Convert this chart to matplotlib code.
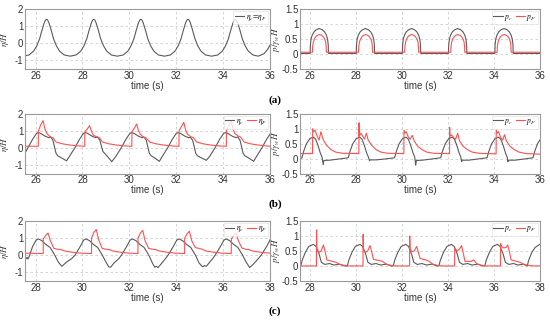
import matplotlib
matplotlib.use("Agg")
import matplotlib.pyplot as plt

plt.rcParams['font.family'] = ['Liberation Sans', 'DejaVu Sans']
plt.rcParams['mathtext.fontset'] = 'stix'

# %% data ------------------------------------------------------------------

# (a) left: eta_c = eta_F
a_eta_t = [25.55, 25.72, 25.92, 26.05, 26.17, 26.27, 26.37, 26.43, 26.47, 26.51, 26.57, 26.67, 26.77, 26.89, 27.02, 27.22, 27.475,
           27.73, 27.93, 28.06, 28.18, 28.28, 28.38, 28.44, 28.48, 28.52, 28.58, 28.68, 28.78, 28.90, 29.03, 29.23, 29.485,
           29.74, 29.94, 30.07, 30.19, 30.29, 30.39, 30.45, 30.49, 30.53, 30.59, 30.69, 30.79, 30.91, 31.04, 31.24, 31.495,
           31.75, 31.95, 32.08, 32.20, 32.30, 32.40, 32.46, 32.50, 32.54, 32.60, 32.70, 32.80, 32.92, 33.05, 33.25, 33.51,
           33.77, 33.97, 34.10, 34.22, 34.32, 34.42, 34.48, 34.52, 34.56, 34.62, 34.72, 34.82, 34.94, 35.07, 35.27, 35.50,
           35.75, 35.90, 36.0]
a_eta_v = [-0.73, -0.68, -0.45, -0.15, 0.25, 0.75, 1.2, 1.37, 1.40, 1.37, 1.2, 0.75, 0.25, -0.15, -0.45, -0.68, -0.75,
           -0.68, -0.45, -0.15, 0.25, 0.75, 1.2, 1.37, 1.40, 1.37, 1.2, 0.75, 0.25, -0.15, -0.45, -0.68, -0.75,
           -0.68, -0.45, -0.15, 0.25, 0.75, 1.2, 1.37, 1.40, 1.37, 1.2, 0.75, 0.25, -0.15, -0.45, -0.68, -0.75,
           -0.68, -0.45, -0.15, 0.25, 0.75, 1.2, 1.37, 1.40, 1.37, 1.2, 0.75, 0.25, -0.15, -0.45, -0.68, -0.75,
           -0.68, -0.45, -0.15, 0.25, 0.75, 1.2, 1.37, 1.40, 1.37, 1.2, 0.75, 0.25, -0.15, -0.45, -0.68, -0.75,
           -0.6, -0.35, -0.1]

# (a) right: p_c (grey) and p_F (red)
a_pc_t = [25.55,
          25.99, 26.00, 26.03, 26.08, 26.16, 26.26, 26.39, 26.52, 26.62, 26.70, 26.75, 26.78, 26.79,
          28.00, 28.01, 28.04, 28.09, 28.17, 28.27, 28.40, 28.53, 28.63, 28.71, 28.76, 28.79, 28.80,
          30.01, 30.02, 30.05, 30.10, 30.18, 30.28, 30.41, 30.54, 30.64, 30.72, 30.77, 30.80, 30.81,
          32.02, 32.03, 32.06, 32.11, 32.19, 32.29, 32.42, 32.55, 32.65, 32.73, 32.78, 32.81, 32.82,
          34.04, 34.05, 34.08, 34.13, 34.21, 34.31, 34.44, 34.57, 34.67, 34.75, 34.80, 34.83, 34.84,
          36.0]
a_pc_v = [0.02,
          0.02, 0.3, 0.5, 0.63, 0.74, 0.81, 0.85, 0.81, 0.74, 0.63, 0.5, 0.3, 0.02,
          0.02, 0.3, 0.5, 0.63, 0.74, 0.81, 0.85, 0.81, 0.74, 0.63, 0.5, 0.3, 0.02,
          0.02, 0.3, 0.5, 0.63, 0.74, 0.81, 0.85, 0.81, 0.74, 0.63, 0.5, 0.3, 0.02,
          0.02, 0.3, 0.5, 0.63, 0.74, 0.81, 0.85, 0.81, 0.74, 0.63, 0.5, 0.3, 0.02,
          0.02, 0.3, 0.5, 0.63, 0.74, 0.81, 0.85, 0.81, 0.74, 0.63, 0.5, 0.3, 0.02,
          0.02]
a_pf_t = [25.55,
          26.09, 26.10, 26.13, 26.18, 26.25, 26.32, 26.40, 26.48, 26.55, 26.62, 26.67, 26.69, 26.70,
          28.10, 28.11, 28.14, 28.19, 28.26, 28.33, 28.41, 28.49, 28.56, 28.63, 28.68, 28.70, 28.71,
          30.11, 30.12, 30.15, 30.20, 30.27, 30.34, 30.42, 30.50, 30.57, 30.64, 30.69, 30.71, 30.72,
          32.12, 32.13, 32.16, 32.21, 32.28, 32.35, 32.43, 32.51, 32.58, 32.65, 32.70, 32.72, 32.73,
          34.14, 34.15, 34.18, 34.23, 34.30, 34.37, 34.45, 34.53, 34.60, 34.67, 34.72, 34.74, 34.75,
          36.0]
a_pf_v = [0.06,
          0.06, 0.25, 0.4, 0.51, 0.59, 0.63, 0.65, 0.63, 0.59, 0.51, 0.4, 0.25, 0.06,
          0.06, 0.25, 0.4, 0.51, 0.59, 0.63, 0.65, 0.63, 0.59, 0.51, 0.4, 0.25, 0.06,
          0.06, 0.25, 0.4, 0.51, 0.59, 0.63, 0.65, 0.63, 0.59, 0.51, 0.4, 0.25, 0.06,
          0.06, 0.25, 0.4, 0.51, 0.59, 0.63, 0.65, 0.63, 0.59, 0.51, 0.4, 0.25, 0.06,
          0.06, 0.25, 0.4, 0.51, 0.59, 0.63, 0.65, 0.63, 0.59, 0.51, 0.4, 0.25, 0.06,
          0.06]

# (b) left: eta_c (grey), eta_F (red)
b_etac_t = [25.55, 25.67, 25.87, 26.04, 26.12, 26.22, 26.42, 26.57, 26.64, 26.74, 26.87, 26.94, 27.07, 27.32,
            27.44, 27.67, 27.87, 28.04, 28.12, 28.22, 28.42, 28.57, 28.64, 28.74, 28.87, 28.97, 29.07, 29.25,
            29.42, 29.65, 29.85, 30.02, 30.10, 30.20, 30.40, 30.55, 30.62, 30.72, 30.85, 30.92, 31.05, 31.28,
            31.40, 31.63, 31.83, 32.00, 32.08, 32.18, 32.38, 32.53, 32.60, 32.70, 32.83, 32.90, 33.03, 33.28,
            33.42, 33.65, 33.85, 34.02, 34.10, 34.20, 34.40, 34.55, 34.62, 34.72, 34.85, 34.92, 35.05, 35.30,
            35.42, 35.65, 35.85, 36.0]
b_etac_v = [-0.3, 0.0, 0.5, 0.85, 0.9, 0.85, 0.68, 0.6, 0.65, 0.45, -0.3, -0.45, -0.55, -0.75,
            -0.5, 0.0, 0.5, 0.85, 0.9, 0.85, 0.68, 0.6, 0.65, 0.45, -0.2, -0.35, -0.5, -0.8,
            -0.5, 0.0, 0.5, 0.85, 0.9, 0.85, 0.68, 0.6, 0.65, 0.45, -0.3, -0.45, -0.55, -0.78,
            -0.5, 0.0, 0.5, 0.85, 0.9, 0.85, 0.68, 0.6, 0.62, 0.45, -0.3, -0.45, -0.55, -0.72,
            -0.5, 0.0, 0.5, 0.85, 0.9, 0.85, 0.68, 0.6, 0.65, 0.45, -0.3, -0.45, -0.55, -0.78,
            -0.5, 0.0, 0.5, 0.8]
b_etaf_t = [25.55, 26.115, 26.12, 26.22, 26.32, 26.40, 26.48, 26.62, 26.74, 26.87, 27.12, 27.42, 27.82, 28.095,
            28.10, 28.20, 28.30, 28.38, 28.46, 28.60, 28.72, 28.85, 29.10, 29.40, 29.80, 30.105,
            30.11, 30.21, 30.31, 30.39, 30.47, 30.61, 30.73, 30.86, 31.11, 31.41, 31.81, 32.115,
            32.12, 32.22, 32.32, 32.40, 32.48, 32.62, 32.74, 32.87, 33.12, 33.42, 33.82, 34.135,
            34.14, 34.24, 34.34, 34.42, 34.50, 34.64, 34.76, 34.89, 35.14, 35.44, 35.84, 36.0]
b_etaf_v = [0.1, 0.1, 1.0, 1.35, 1.6, 1.1, 0.85, 0.65, 0.6, 0.35, 0.25, 0.18, 0.12, 0.1,
            0.95, 1.1, 1.3, 1.0, 0.75, 0.65, 0.6, 0.35, 0.25, 0.18, 0.12, 0.1,
            0.95, 1.15, 1.4, 1.0, 0.8, 0.62, 0.58, 0.35, 0.25, 0.18, 0.12, 0.1,
            1.0, 1.25, 1.5, 1.05, 0.8, 0.65, 0.6, 0.35, 0.25, 0.18, 0.12, 0.1,
            1.0, 1.35, 1.6, 1.1, 0.85, 0.7, 0.62, 0.35, 0.25, 0.18, 0.12, 0.1]

# (b) right: p_c (grey), p_F (red)
b_pc_t = [25.55, 25.63, 25.71, 25.83, 25.98, 26.13, 26.23, 26.33, 26.43, 26.51, 26.56, 26.59, 26.85, 27.35, 27.65,
          27.73, 27.85, 28.00, 28.15, 28.25, 28.35, 28.45, 28.53, 28.58, 28.61, 28.87, 29.37, 29.67,
          29.75, 29.87, 30.02, 30.17, 30.27, 30.37, 30.47, 30.55, 30.59, 30.62, 30.89, 31.39, 31.68,
          31.76, 31.88, 32.03, 32.18, 32.28, 32.38, 32.48, 32.56, 32.59, 32.62, 32.90, 33.40, 33.70,
          33.78, 33.90, 34.05, 34.20, 34.30, 34.40, 34.50, 34.58, 34.61, 34.64, 34.92, 35.42, 35.70,
          35.78, 35.90, 36.0]
b_pc_v = [0.02, 0.02, 0.25, 0.5, 0.67, 0.72, 0.65, 0.45, 0.2, 0.05, -0.2, -0.06, -0.05, 0.0, 0.03,
          0.25, 0.5, 0.67, 0.72, 0.65, 0.45, 0.2, 0.05, -0.07, -0.04, -0.04, 0.0, 0.03,
          0.25, 0.5, 0.67, 0.72, 0.65, 0.45, 0.2, 0.05, -0.22, -0.06, -0.05, 0.0, 0.03,
          0.25, 0.5, 0.67, 0.72, 0.65, 0.45, 0.2, 0.05, -0.1, -0.05, -0.05, 0.0, 0.03,
          0.25, 0.5, 0.67, 0.72, 0.65, 0.45, 0.2, 0.05, -0.1, -0.05, -0.05, 0.0, 0.03,
          0.25, 0.5, 0.62]
b_pf_t = [25.55, 26.095, 26.10, 26.15, 26.20, 26.30, 26.38, 26.46, 26.55, 26.70, 26.90, 27.10, 27.40,
          28.115, 28.12, 28.13, 28.20, 28.28, 28.36, 28.44, 28.52, 28.67, 28.87, 29.07, 29.37,
          30.075, 30.08, 30.13, 30.18, 30.28, 30.36, 30.44, 30.52, 30.67, 30.87, 31.07, 31.37,
          32.065, 32.07, 32.08, 32.15, 32.25, 32.33, 32.42, 32.50, 32.65, 32.85, 33.05, 33.35,
          34.095, 34.10, 34.15, 34.20, 34.30, 34.38, 34.46, 34.54, 34.69, 34.89, 35.09, 35.39, 36.0]
b_pf_v = [0.17, 0.17, 1.0, 0.9, 0.95, 0.75, 0.62, 0.9, 0.65, 0.45, 0.3, 0.22, 0.18,
          0.17, 1.2, 0.75, 0.85, 0.75, 0.65, 0.85, 0.62, 0.45, 0.3, 0.22, 0.18,
          0.17, 0.95, 0.85, 0.9, 0.7, 0.65, 0.78, 0.6, 0.42, 0.3, 0.22, 0.18,
          0.17, 1.05, 0.75, 0.8, 0.7, 0.65, 0.85, 0.6, 0.42, 0.3, 0.22, 0.18,
          0.16, 0.95, 0.85, 0.9, 0.7, 0.62, 0.8, 0.6, 0.42, 0.3, 0.22, 0.17, 0.15]

# (c) left: eta_c (grey), eta_F (red)
c_etac_t = [27.55, 27.60, 27.64, 27.68, 27.72, 27.87, 28.02, 28.12,
            28.27, 28.42, 28.62, 28.82, 28.97, 29.12, 29.32, 29.54, 29.68, 29.90, 30.05, 30.15,
            30.30, 30.45, 30.65, 30.85, 31.00, 31.12, 31.20, 31.35, 31.55, 31.66, 31.88, 32.03, 32.13,
            32.28, 32.43, 32.63, 32.83, 32.98, 33.08, 33.15, 33.22, 33.30, 33.45, 33.65, 33.87, 34.02, 34.12,
            34.27, 34.42, 34.62, 34.82, 34.97, 35.07, 35.13, 35.20, 35.28, 35.40, 35.55, 35.66, 35.88, 36.03, 36.13,
            36.28, 36.43, 36.63, 36.83, 36.98, 37.13, 37.30, 37.50, 37.62, 37.85, 38.0]
c_etac_v = [-0.15, -0.2, -0.12, -0.22, -0.1, 0.5, 0.88, 0.95,
            0.85, 0.65, 0.45, 0.0, -0.4, -0.65, -0.4, -0.2, 0.0, 0.5, 0.88, 0.95,
            0.85, 0.65, 0.45, 0.0, -0.4, -0.68, -0.7, -0.45, -0.2, 0.0, 0.5, 0.88, 0.95,
            0.85, 0.65, 0.45, 0.0, -0.45, -0.7, -0.65, -0.72, -0.6, -0.35, 0.0, 0.5, 0.88, 0.95,
            0.85, 0.65, 0.45, 0.0, -0.45, -0.6, -0.68, -0.6, -0.65, -0.45, -0.2, 0.0, 0.5, 0.88, 0.95,
            0.85, 0.65, 0.45, 0.0, -0.4, -0.72, -0.5, -0.2, 0.0, 0.5, 0.9]
c_etaf_t = [27.55, 28.325,
            28.33, 28.43, 28.53, 28.63, 28.78, 28.93, 29.08, 29.23, 29.53, 29.93, 30.385,
            30.39, 30.49, 30.59, 30.69, 30.84, 30.99, 31.14, 31.29, 31.59, 31.99, 32.365,
            32.37, 32.47, 32.57, 32.67, 32.82, 32.97, 33.12, 33.27, 33.57, 33.97, 34.355,
            34.36, 34.46, 34.56, 34.66, 34.81, 34.96, 35.11, 35.26, 35.56, 35.96, 36.345,
            36.35, 36.45, 36.55, 36.65, 36.80, 36.95, 37.10, 37.25, 37.55, 38.0]
c_etaf_v = [0.12, 0.1,
            0.95, 1.15, 1.3, 0.85, 0.4, 0.35, 0.33, 0.25, 0.18, 0.12, 0.1,
            1.0, 1.35, 1.5, 0.9, 0.4, 0.35, 0.33, 0.25, 0.18, 0.12, 0.1,
            1.0, 1.3, 1.45, 0.85, 0.4, 0.35, 0.33, 0.25, 0.18, 0.12, 0.1,
            1.0, 1.25, 1.4, 0.85, 0.45, 0.4, 0.35, 0.25, 0.18, 0.12, 0.1,
            0.95, 1.15, 1.3, 0.85, 0.42, 0.35, 0.33, 0.25, 0.18, 0.12]

# (c) right: p_c (grey), p_F (red)
c_pc_t = [27.55, 27.58, 27.65, 27.78, 27.93, 28.13, 28.25, 28.38, 28.48, 28.63, 28.83, 29.03, 29.28, 29.48, 29.61,
          29.68, 29.81, 29.96, 30.16, 30.28, 30.41, 30.51, 30.66, 30.86, 31.06, 31.31, 31.51, 31.61,
          31.68, 31.81, 31.96, 32.16, 32.28, 32.41, 32.51, 32.66, 32.86, 33.06, 33.31, 33.51, 33.60,
          33.67, 33.80, 33.95, 34.15, 34.27, 34.40, 34.50, 34.65, 34.85, 35.05, 35.30, 35.50, 35.60,
          35.67, 35.80, 35.95, 36.15, 36.27, 36.40, 36.50, 36.65, 36.85, 37.05, 37.30, 37.45,
          37.52, 37.65, 37.80, 38.0]
c_pc_v = [0.0, 0.0, 0.2, 0.45, 0.65, 0.72, 0.65, 0.4, 0.12, 0.05, 0.08, 0.03, 0.06, 0.0, 0.0,
          0.2, 0.45, 0.65, 0.72, 0.65, 0.4, 0.12, 0.05, 0.08, 0.03, 0.06, 0.0, 0.0,
          0.2, 0.45, 0.65, 0.72, 0.65, 0.4, 0.12, 0.05, 0.08, 0.03, 0.06, 0.0, 0.0,
          0.2, 0.45, 0.65, 0.72, 0.65, 0.4, 0.12, 0.05, 0.08, 0.03, 0.06, 0.0, 0.0,
          0.2, 0.45, 0.65, 0.72, 0.65, 0.4, 0.12, 0.05, 0.08, 0.03, 0.06, 0.0,
          0.2, 0.45, 0.62, 0.72]
c_pf_t = [27.55, 28.265, 28.27, 28.285, 28.37, 28.47, 28.57, 28.65, 28.72, 28.97, 29.12, 29.27, 29.47, 29.67,
          30.295, 30.30, 30.315, 30.40, 30.50, 30.60, 30.68, 30.75, 31.00, 31.15, 31.30, 31.50, 31.70,
          32.325, 32.33, 32.345, 32.43, 32.53, 32.63, 32.71, 32.78, 33.03, 33.18, 33.33, 33.53, 33.73,
          34.285, 34.29, 34.39, 34.49, 34.59, 34.67, 34.74, 34.99, 35.12, 35.27, 35.47, 35.67,
          36.285, 36.29, 36.33, 36.43, 36.53, 36.60, 36.68, 36.75, 37.00, 37.15, 37.30, 37.50, 37.70, 38.0]
c_pf_v = [0.0, 0.0, 1.2, 0.55, 0.45, 0.5, 0.7, 0.45, 0.2, 0.15, 0.12, 0.05, 0.02, 0.0,
          0.0, 1.05, 0.55, 0.45, 0.5, 0.68, 0.45, 0.22, 0.18, 0.15, 0.06, 0.02, 0.0,
          0.0, 1.0, 0.55, 0.48, 0.5, 0.65, 0.45, 0.25, 0.2, 0.15, 0.06, 0.02, 0.0,
          0.0, 0.6, 0.5, 0.55, 0.68, 0.4, 0.15, 0.15, 0.2, 0.06, 0.02, 0.0,
          0.0, 0.75, 0.65, 0.6, 0.62, 0.7, 0.45, 0.2, 0.15, 0.12, 0.05, 0.02, 0.0, 0.0]

eta_ticks = [-1, 0, 1, 2]
p_ticks = [-0.5, 0, 0.5, 1, 1.5]
xticks_ab = [26, 28, 30, 32, 34, 36]
xticks_c = [28, 30, 32, 34, 36, 38]
panel_names = ['(a)', '(b)', '(c)']

GREY = '#5a5a5a'
RED = '#ff5050'

# %% figure ---------------------------------------------------------------
fig = plt.figure(figsize=(5.5, 3.24), dpi=100)

rows_bottom = [0.787, 0.464, 0.133]
row_h = 0.185
xl_left, xw_left = 0.0455, 0.4455
xl_right, xw_right = 0.5455, 0.436


def style(ax, xlim, xticks, ylim, yticks, ylabel, label_x):
    ax.set_xlim(*xlim)
    ax.set_ylim(*ylim)
    ax.set_xticks(xticks)
    ax.set_yticks(yticks)
    ax.set_yticklabels([f'{v:g}' for v in yticks])
    ax.grid(True, color='#cfcfcf', linestyle=(0, (3, 3)), linewidth=0.6)
    ax.set_axisbelow(True)
    for s in ax.spines.values():
        s.set_color('#9a9a9a')
        s.set_linewidth(0.8)
    ax.tick_params(length=0, pad=1.2, labelsize=7, colors='#333333')
    ax.set_xlabel('time (s)', fontsize=7, labelpad=0, color='#333333')
    ax.set_ylabel(ylabel, fontsize=6.5, color='#333333')
    ax.yaxis.set_label_coords(label_x, 0.5)


def legend(ax, ncol):
    lg = ax.legend(loc='upper right', ncol=ncol, fontsize=5.5, frameon=True,
                   handlelength=1.2, handletextpad=0.2, columnspacing=0.4,
                   borderpad=0.2, borderaxespad=0.25, fancybox=False)
    lg.get_frame().set_edgecolor('#dddddd')
    lg.get_frame().set_linewidth(0.5)


eta_lab = r'$\eta/H$'
p_lab = r'$p/\gamma_w H$'

series = [
    ((25.55, 36), xticks_ab, [(a_eta_t, a_eta_v, GREY, r'$\eta_c\!=\!\eta_F$')],
     [(a_pc_t, a_pc_v, GREY, r'$p_c$'), (a_pf_t, a_pf_v, RED, r'$p_F$')]),
    ((25.55, 36), xticks_ab, [(b_etac_t, b_etac_v, GREY, r'$\eta_c$'), (b_etaf_t, b_etaf_v, RED, r'$\eta_F$')],
     [(b_pc_t, b_pc_v, GREY, r'$p_c$'), (b_pf_t, b_pf_v, RED, r'$p_F$')]),
    ((27.55, 38), xticks_c, [(c_etac_t, c_etac_v, GREY, r'$\eta_c$'), (c_etaf_t, c_etaf_v, RED, r'$\eta_F$')],
     [(c_pc_t, c_pc_v, GREY, r'$p_c$'), (c_pf_t, c_pf_v, RED, r'$p_F$')]),
]

for i, (xlim, xticks, left, right) in enumerate(series):
    b = rows_bottom[i]
    axl = fig.add_axes([xl_left, b, xw_left, row_h])
    for t, v, c, lab in left:
        axl.plot(t, v, color=c, lw=0.8, label=lab)
    style(axl, xlim, xticks, (-1.5, 2), eta_ticks, eta_lab, -0.056)
    legend(axl, len(left))

    axr = fig.add_axes([xl_right, b, xw_right, row_h])
    for t, v, c, lab in right:
        axr.plot(t, v, color=c, lw=0.8, label=lab)
    style(axr, xlim, xticks, (-0.5, 1.5), p_ticks, p_lab, -0.076)
    legend(axr, len(right))

    fig.text(0.5, b - 0.095, panel_names[i], ha='center', va='center',
             fontsize=8, fontweight='bold', family='Liberation Serif')

fig.savefig('out.png', dpi=100)
